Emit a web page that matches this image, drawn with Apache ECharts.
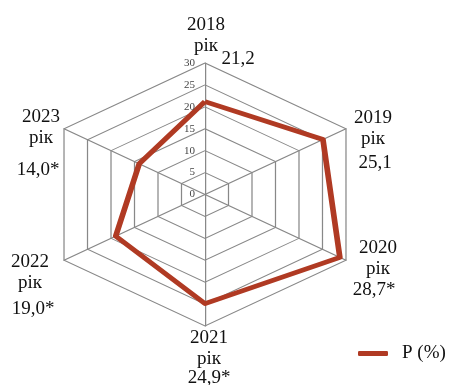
<!DOCTYPE html>
<html>
<head>
<meta charset="utf-8">
<script src="https://cdn.jsdelivr.net/npm/echarts@6/dist/echarts.min.js"></script>
<style>
html, body { margin: 0; padding: 0; background: #fff; }
#wrap { position: relative; width: 449px; height: 385px; overflow: hidden; }
#web, #words { position: absolute; left: 0; top: 0; width: 449px; height: 385px; }
/* the web in the picture is wider than a regular hexagon */
#web { transform: scaleX(1.238); transform-origin: 205px 0; }
</style>
</head>
<body>
<div id="wrap"><div id="web"></div><div id="words"></div></div>
<script>
// ==============================================================
// data
// ==============================================================
var years = ['2018', '2019', '2020', '2021', '2022', '2023'];
var values = [21.2, 25.1, 28.7, 24.9, 19.0, 14.0];
var starred = [false, false, true, true, true, true];
var seriesName = 'P (%)';
var axisMax = 30;
var axisSplits = 6;

// label places (year block centre, value centre), same order as years
var yearPos = [[206, 36], [373, 129], [378, 259], [209, 349], [30, 273], [41, 128]];
var valuePos = [[238, 59], [375, 163], [374, 290], [209, 378], [33, 309], [38, 170]];

var red = '#b03a23';
var gray = '#888888';
var serif = '"Liberation Serif", "DejaVu Serif", serif';
var center = [205, 194.5];
var radius = 131.5;

// echarts goes round counter-clockwise, the picture goes clockwise
var order = [0, 5, 4, 3, 2, 1];
var indicators = order.map(function (i, k) {
    var ind = { name: years[i], min: 0, max: axisMax };
    if (k === 0) {
        ind.axisLabel = { show: true, fontFamily: serif, fontSize: 11, color: '#444', margin: 10 };
    }
    return ind;
});
var ordered = order.map(function (i) { return values[i]; });

function fmt(v, star) {
    return v.toFixed(1).replace('.', ',') + (star ? '*' : '');
}

// ==============================================================
// web + line (stretched)
// ==============================================================
var webChart = echarts.init(document.getElementById('web'), null, { renderer: 'svg' });
webChart.setOption({
    animation: false,
    radar: {
        center: center,
        radius: radius,
        splitNumber: axisSplits,
        indicator: order.map(function (i) { return { name: years[i], min: 0, max: axisMax }; }),
        axisName: { show: false },
        axisLine: { lineStyle: { color: gray, width: 1 } },
        splitLine: { lineStyle: { color: gray, width: 1 } },
        splitArea: { show: false },
        axisLabel: { show: false }
    },
    series: [{
        name: seriesName,
        type: 'radar',
        symbol: 'none',
        lineStyle: { color: red, width: 4.6 },
        itemStyle: { color: red },
        data: [{ value: ordered, name: seriesName }]
    }]
});

// ==============================================================
// texts (not stretched)
// ==============================================================
var labels = [];
years.forEach(function (y, i) {
    labels.push({
        type: 'text', x: yearPos[i][0], y: yearPos[i][1],
        style: { text: y + '\nрік', font: '19px ' + serif, fill: '#111', lineHeight: 21,
                 textAlign: 'center', textVerticalAlign: 'middle' }
    });
    labels.push({
        type: 'text', x: valuePos[i][0], y: valuePos[i][1],
        style: { text: fmt(values[i], starred[i]), font: '19px ' + serif, fill: '#111',
                 textAlign: 'center', textVerticalAlign: 'middle' }
    });
});

var wordChart = echarts.init(document.getElementById('words'));
wordChart.setOption({
    animation: false,
    legend: {
        left: 358, top: 344, padding: 0,
        itemWidth: 30, itemHeight: 5, icon: 'roundRect',
        textStyle: { fontFamily: serif, fontSize: 19, color: '#111', padding: [0, 0, 0, 9] },
        data: [seriesName]
    },
    radar: {
        center: center,
        radius: radius,
        splitNumber: axisSplits,
        indicator: indicators,
        axisName: { show: false },
        axisLine: { show: false },
        splitLine: { show: false },
        splitArea: { show: false },
        axisLabel: { show: false }
    },
    graphic: labels,
    series: [{
        name: seriesName,
        type: 'radar',
        symbol: 'none',
        itemStyle: { color: red },
        lineStyle: { opacity: 0 },
        data: []
    }]
});
</script>
</body>
</html>
